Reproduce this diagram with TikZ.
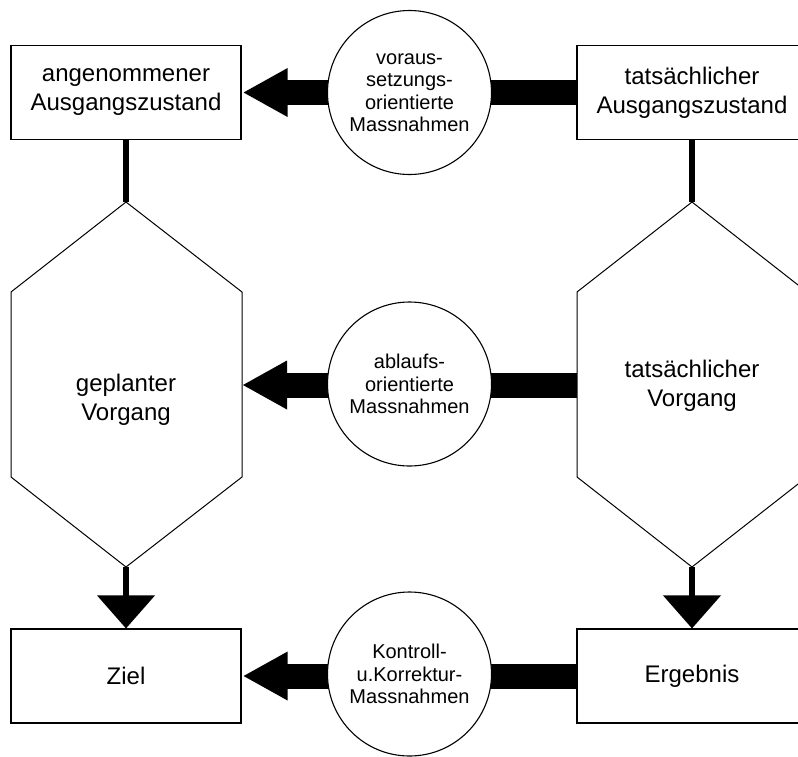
\documentclass[tikz,border=0pt]{standalone}
\usepackage{fontspec}
\setmainfont{Liberation Sans}
\begin{document}
\begin{tikzpicture}[x=1pt,y=-1pt,
  box/.style={draw, line width=1.2pt, minimum width=230pt, minimum height=94pt,
    inner sep=0pt, align=center, font=\fontsize{24}{29}\selectfont},
  ring/.style={draw, fill=white, circle, line width=1.1pt, minimum size=164pt,
    inner sep=0pt, align=center, font=\fontsize{20}{22.5}\selectfont},
  hexa/.style={draw, line width=1pt},
  hextext/.style={align=center, font=\fontsize{24}{29}\selectfont},
  shaft/.style={line width=25pt},
  stem/.style={line width=6pt},
  head/.style={fill=black}
]
\useasboundingbox (0,0) rectangle (798,756);
\clip (0,0) rectangle (798,756);

% boxes
\node[box] (soll0) at (126,92.5) {angenommener\\Ausgangszustand};
\node[box] (ist0)  at (692,92.5) {tats\"achlicher\\Ausgangszustand};
\node[box] (ziel)  at (126,676)  {Ziel};
\node[box] (erg)   at (692,676)  {Ergebnis};

% process hexagons
\draw[hexa] (126,202) coordinate (hlT) -- (242,292) -- (242,477)
  -- (126,567) coordinate (hlB) -- (11,477) -- (11,292) -- cycle;
\draw[hexa] (692,202) coordinate (hrT) -- (807,292) -- (807,477)
  -- (692,567) coordinate (hrB) -- (577,477) -- (577,292) -- cycle;
\coordinate (hlE) at (242,385);
\coordinate (hrW) at (577,385);
\node[hextext] (plan) at (126,400) {geplanter\\Vorgang};
\node[hextext] (real) at (692,386) {tats\"achlicher\\Vorgang};

% vertical links
\draw[stem] (soll0.south) -- (hlT);
\draw[stem] (ist0.south) -- (hrT);
\draw[stem] (hlB) -- ([yshift=30pt]ziel.north);
\draw[stem] (hrB) -- ([yshift=30pt]erg.north);
\fill[head] (ziel.north) -- ++(-29,-33) -- ++(58,0) -- cycle;
\fill[head] (erg.north) -- ++(-29,-33) -- ++(58,0) -- cycle;

% horizontal feedback arrows
\coordinate (t1) at ([xshift=2pt]soll0.east);
\coordinate (t2) at ([xshift=1pt]hlE);
\coordinate (t3) at ([xshift=2pt]ziel.east);
\draw[shaft] (ist0.west) -- ([xshift=40pt]t1);
\draw[shaft] (hrW) -- ([xshift=40pt]t2);
\draw[shaft] (erg.west) -- ([xshift=40pt]t3);
\fill[head] (t1) -- ++(44,-24.5) -- ++(0,49) -- cycle;
\fill[head] (t2) -- ++(44,-24.5) -- ++(0,49) -- cycle;
\fill[head] (t3) -- ++(44,-24.5) -- ++(0,49) -- cycle;

% measures
\node[ring] (m1) at (409.5,92.5) {voraus-\\setzungs-\\orientierte\\Massnahmen};
\node[ring] (m2) at (409.5,384)  {ablaufs-\\orientierte\\Massnahmen};
\node[ring] (m3) at (409.5,674)  {Kontroll-\\u.Korrektur-\\Massnahmen};
\end{tikzpicture}
\end{document}
